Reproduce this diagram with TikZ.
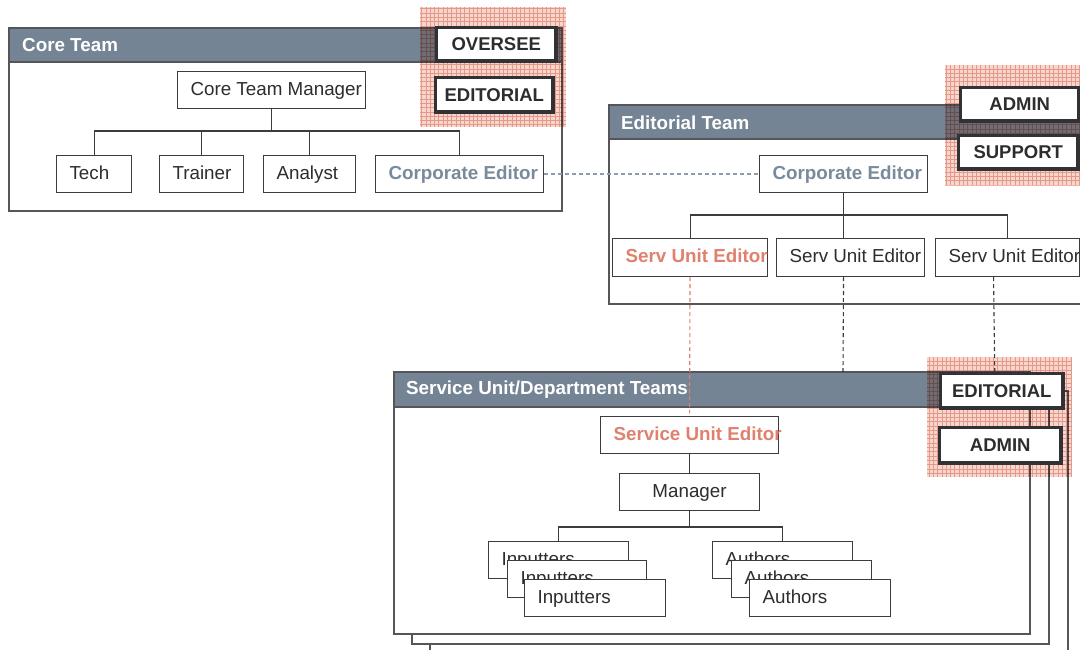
\documentclass[tikz,border=0pt]{standalone}
\usepackage{fontspec}
\setmainfont{Liberation Sans}
\definecolor{hdrcol}{RGB}{116,132,148}
\definecolor{slatetxt}{RGB}{120,138,156}
\definecolor{slatedash}{RGB}{140,156,172}
\definecolor{redtxt}{RGB}{224,128,110}
\definecolor{pinkbg}{RGB}{246,214,205}
\definecolor{pinkline}{RGB}{238,182,168}
\definecolor{txt}{RGB}{45,45,48}
\definecolor{boxline}{RGB}{60,60,64}
\definecolor{frameline}{RGB}{85,85,90}
\definecolor{tagline}{RGB}{50,50,54}
\begin{document}
\begin{tikzpicture}[x=1pt,y=-1pt,
  every node/.style={font=\fontsize{18.8}{22}\selectfont, text=txt},
  box/.style={draw=boxline, line width=1.1pt, fill=white, anchor=north west,
    minimum height=37pt, inner xsep=13pt, inner ysep=0pt,
    text height=13.5pt, text depth=3.5pt},
  cbox/.style={box, inner xsep=0pt},
  tag/.style={draw=tagline, line width=3.5pt, fill=white, anchor=north west,
    inner sep=0pt, font=\fontsize{18.5}{22}\selectfont\bfseries},
  frame/.style={draw=frameline, line width=1.3pt, fill=white},
  hdr/.style={fill=hdrcol, draw=frameline, line width=1.3pt},
  hdrtext/.style={anchor=west, text=white, inner sep=0pt,
    font=\fontsize{18.8}{22}\selectfont\bfseries},
  tree/.style={draw=boxline, line width=1.1pt},
  slatedashed/.style={draw=slatedash, line width=1.1pt, dash pattern=on 4pt off 3pt},
  reddashed/.style={draw=redtxt, line width=1.1pt, dash pattern=on 4pt off 3pt},
  graydashed/.style={draw=boxline, line width=1.1pt, dash pattern=on 4pt off 3pt},
  hatchfill/.style={fill=pinkbg},
  hatchgrid/.style={draw=pinkline, line width=0.4pt, xstep=4.3pt, ystep=4.3pt},
]
\clip (0,0) rectangle (1080,650);
\fill[white] (0,0) rectangle (1080,650);

% ---------- Service Unit frames (stacked) ----------
\draw[frame] (430,391) rectangle (1068,665);
\draw[frame] (412,382) rectangle (1049,644);
\draw[frame] (394,372) rectangle (1030,634);
\draw[hdr] (394,372) rectangle (1030,407);
\node[hdrtext] (suhdr) at (406,390) {Service Unit/Department Teams};

% ---------- Core Team frame ----------
\draw[frame] (9,28) rectangle (562,211);
\draw[hdr] (9,28) rectangle (562,62);
\node[hdrtext] (corehdr) at (22,45) {Core Team};

% ---------- Editorial Team frame ----------
\draw[frame] (609,105) rectangle (1095,304);
\draw[hdr] (609,105) rectangle (1095,139);
\node[hdrtext] (edhdr) at (621,123) {Editorial Team};

% ---------- Core Team boxes ----------
\node[box] (ctm) at (177,71) {\makebox[162pt][l]{Core Team Manager}};
\node[box] (tech) at (56,155) {\makebox[49pt][l]{Tech}};
\node[box] (trainer) at (159,155) {\makebox[58pt][l]{Trainer}};
\node[box] (analyst) at (263,155) {\makebox[66pt][l]{Analyst}};
\node[box] (ced1) at (375,155) {\makebox[142pt][l]{\bfseries\color{slatetxt}Corporate Editor}};
\draw[tree] (ctm.south) -- (ctm.south |- 0,131);
\draw[tree] (tech.north) -- (tech.north |- 0,131) -- (ced1.north |- 0,131) -- (ced1.north);
\draw[tree] (trainer.north) -- (trainer.north |- 0,131);
\draw[tree] (analyst.north) -- (analyst.north |- 0,131);

% ---------- Editorial Team boxes ----------
\node[box] (ced2) at (759,155) {\makebox[142pt][l]{\bfseries\color{slatetxt}Corporate Editor}};
\node[box, minimum height=38pt] (sue1) at (612,238) {\makebox[129pt][l]{\bfseries\color{redtxt}Serv Unit Editor}};
\node[box, minimum height=38pt] (sue2) at (776,238) {\makebox[122pt][l]{Serv Unit Editor}};
\node[box, minimum height=38pt] (sue3) at (935,238) {\makebox[118pt][l]{Serv Unit Editor}};
\draw[tree] (ced2.south) -- (ced2.south |- sue2.north);
\draw[tree] (sue1.north) -- (sue1.north |- 0,215) -- (sue3.north |- 0,215) -- (sue3.north);

% ---------- Service Unit boxes ----------
\node[box] (sued) at (600,416) {\makebox[152pt][l]{\bfseries\color{redtxt}Service Unit Editor}};
\node[cbox, minimum width=140pt] (mgr) at (619,473) {Manager};
\node[box] (in1) at (488,541) {\makebox[114pt][l]{Inputters}};
\node[box] (in2) at (507,560) {\makebox[113pt][l]{Inputters}};
\node[box] (in3) at (524,579) {\makebox[115pt][l]{Inputters}};
\node[box] (au1) at (712,541) {\makebox[114pt][l]{Authors}};
\node[box] (au2) at (731,560) {\makebox[114pt][l]{Authors}};
\node[box] (au3) at (749,579) {\makebox[115pt][l]{Authors}};
\draw[tree] (sued.south) -- (mgr.north);
\draw[tree] (mgr.south) -- (mgr.south |- 0,527);
\draw[tree] (in1.north) -- (in1.north |- 0,527) -- (au1.north |- 0,527) -- (au1.north);

% ---------- dashed links ----------
\coordinate (sutop) at (843,372);
\draw[slatedashed] (ced1.east) -- (ced2.west);
\draw[reddashed, shorten >=3pt] (sue1.south) -- (sued.north);
\draw[graydashed] (ced2.south |- sue2.south) -- (sutop);

% ---------- hatched highlight areas ----------
\begin{scope}[blend mode=multiply]
  \fill[hatchfill] (420,7) rectangle (566,127);
  \draw[hatchgrid] (420,7) grid (566,127);
  \fill[hatchfill] (945,65) rectangle (1085,185);
  \draw[hatchgrid] (945,65) grid (1085,185);
  \fill[hatchfill] (927,357) rectangle (1072,477);
  \draw[hatchgrid] (927,357) grid (1072,477);
\end{scope}

% ---------- tags ----------
\node[tag, minimum width=119.5pt, minimum height=33.5pt] (oversee) at (434.75,25.75) {OVERSEE};
\node[tag, minimum width=117.5pt, minimum height=34.5pt] (coreedit) at (433.75,75.75) {EDITORIAL};
\node[tag, minimum width=118.5pt, minimum height=33.5pt] (edadmin) at (958.75,85.75) {ADMIN};
\node[tag, minimum width=119.5pt, minimum height=33.5pt] (support) at (956.75,133.75) {SUPPORT};
\node[tag, minimum width=122.5pt, minimum height=34.5pt] (suedit) at (938.75,371.75) {EDITORIAL};
\node[tag, minimum width=121.5pt, minimum height=35.5pt] (suadmin) at (937.75,425.75) {ADMIN};

\draw[graydashed] ([xshift=-14pt]sue3.south) -- ([xshift=-7pt]suedit.north);
\end{tikzpicture}
\end{document}
